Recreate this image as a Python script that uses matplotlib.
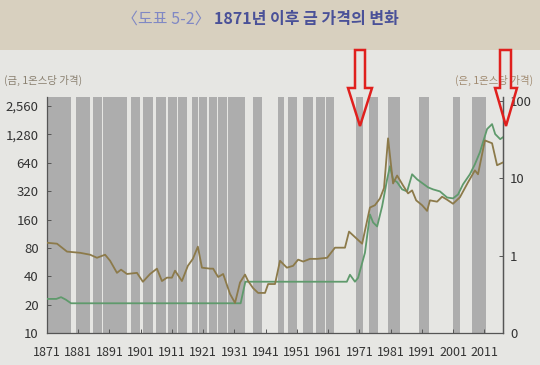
import matplotlib
matplotlib.use("Agg")
import matplotlib.pyplot as plt
from matplotlib.patches import Polygon, Rectangle
from matplotlib.ticker import FixedLocator, NullLocator

plt.rcParams['font.family'] = ['Liberation Sans Narrow', 'Noto Sans CJK KR', 'DejaVu Sans']

# ---- data ----
gold_years = [1871, 1874, 1875.5, 1877, 1878.7, 1933, 1934.5, 1967, 1968.0, 1969.6, 1970.6,
              1972.8, 1974.4, 1975.4, 1976.7, 1978.3, 1979.9, 1980.8, 1981.8, 1983.1, 1984.7,
              1986.3, 1987.9, 1989.5, 1993.0, 1994.6, 1996.8, 1999.1, 2001.0, 2002.6, 2004.2,
              2006.4, 2008.0, 2009.6, 2011.9, 2013.5, 2014.5, 2016.1, 2017.0]
gold_price = [23.0, 23.0, 24.0, 22.6, 20.67, 20.67, 35.0, 35.0, 41.5, 35.0, 38.5,
              71, 181, 149, 135, 221, 427, 588, 427, 398, 334,
              318, 483, 427, 351, 334, 318, 274, 268, 295, 378,
              483, 617, 827, 1458, 1645, 1289, 1139, 1195]

silver_years = [1871.0, 1874.2, 1877.4, 1881.6, 1884.8, 1887.0, 1889.6, 1891.2, 1893.4, 1894.7,
                1896.6, 1899.8, 1901.7, 1904.0, 1906.2, 1907.8, 1909.4, 1911.0, 1912.0, 1914.2,
                1916.1, 1917.7, 1919.3, 1920.6, 1923.2, 1924.2, 1925.8, 1927.4, 1929.6, 1931.2,
                1932.8, 1934.4, 1935.4, 1937.0, 1938.6, 1940.8, 1941.8, 1944.0, 1945.6, 1947.8,
                1949.8, 1951.4, 1953.0, 1955.2, 1957.5, 1960.7, 1963.2, 1966.4, 1967.7, 1971.9,
                1974.4, 1976.0, 1977.6, 1978.9, 1980.2, 1981.8, 1983.1, 1985.0, 1986.6, 1987.9,
                1989.2, 1991.1, 1992.7, 1993.6, 1995.9, 1997.5, 1999.1, 2001.0, 2003.2, 2005.8,
                2008.0, 2009.0, 2011.2, 2013.5, 2015.1, 2017.0]
silver_price = [1.47, 1.43, 1.13, 1.09, 1.03, 0.94, 1.03, 0.86, 0.60, 0.66,
                0.58, 0.60, 0.46, 0.58, 0.68, 0.47, 0.52, 0.52, 0.64, 0.47,
                0.74, 0.91, 1.31, 0.70, 0.68, 0.68, 0.53, 0.58, 0.32, 0.245,
                0.45, 0.57, 0.47, 0.38, 0.33, 0.33, 0.43, 0.43, 0.86, 0.70,
                0.74, 0.89, 0.84, 0.91, 0.91, 0.94, 1.27, 1.27, 2.05, 1.43,
                4.2, 4.5, 5.5, 7.5, 33, 8.6, 10.9, 8.1, 6.4, 7.0,
                5.2, 4.5, 3.8, 5.2, 5.0, 5.8, 5.3, 4.7, 5.7, 8.9,
                12.7, 11.3, 31, 28.5, 14.8, 16.1]

band_start = [1871.0, 1880.3, 1885.7, 1888.9, 1897.9, 1901.7, 1905.9, 1909.7, 1912.9, 1917.4,
              1919.7, 1922.9, 1925.8, 1929.0, 1937.0, 1945.0, 1948.2, 1953.0, 1957.1, 1960.3,
              1969.9, 1974.1, 1980.2, 1990.1, 2001.0, 2007.1]
band_end = [1878.7, 1884.8, 1888.6, 1896.6, 1900.8, 1904.9, 1909.1, 1912.6, 1915.8, 1919.4,
            1922.2, 1925.4, 1928.6, 1934.4, 1939.8, 1946.9, 1951.0, 1956.2, 1960.0, 1962.9,
            1972.2, 1977.0, 1984.0, 1993.3, 2003.2, 2011.6]

x_ticks = list(range(1871, 2012, 10))
gold_ticks = [10, 20, 40, 80, 160, 320, 640, 1280, 2560]
gold_tick_labels = ['10', '20', '40', '80', '160', '320', '640', '1,280', '2,560']
silver_ticks = [0.1, 1, 10, 100]
silver_tick_labels = ['0', '1', '10', '100']

title_a = '〈도표 5-2〉'
title_b = '1871년 이후 금 가격의 변화'
left_unit = '(금, 1온스당 가격)'
right_unit = '(은, 1온스당 가격)'

# ---- figure ----
W, H = 540, 365
fig = plt.figure(figsize=(5.4, 3.65), dpi=100, facecolor='#e6e6e3')

bg = fig.add_axes([0, 0, 1, 1], zorder=0)
bg.set_xlim(0, W); bg.set_ylim(H, 0); bg.axis('off')
bg.add_patch(Rectangle((0, 0), W, 50, color='#d8d0bf', lw=0))
cjk = ['Noto Sans CJK KR', 'DejaVu Sans']
bg.text(211, 19, title_a, ha='right', va='center', fontsize=11.5, color='#8088c4', family=cjk)
bg.text(214, 19, title_b, ha='left', va='center', fontsize=11.5, color='#4a5198',
        fontweight='bold', family=cjk)
bg.text(4, 80, left_unit, ha='left', va='center', fontsize=7.5, color='#8a8070', family=cjk)
bg.text(533, 80, right_unit, ha='right', va='center', fontsize=7.5, color='#a08a70', family=cjk)

ax = fig.add_axes([47 / W, 1 - 333 / H, (503 - 47) / W, (333 - 97) / H], zorder=2)
ax.patch.set_alpha(0)
for s, e in zip(band_start, band_end):
    ax.axvspan(s, e, color='#adadad', lw=0, zorder=1)
ax.set_yscale('log', base=2)
ax.set_ylim(10, 3190)
ax.set_xlim(1871, 2017)
ax.plot(gold_years, gold_price, color='#5f9a6c', lw=1.3, zorder=4)
ax.yaxis.set_major_locator(FixedLocator(gold_ticks))
ax.yaxis.set_minor_locator(NullLocator())
ax.set_yticklabels(gold_tick_labels)
ax.set_xticks(x_ticks)
ax.set_xticklabels([str(t) for t in x_ticks])
ax.tick_params(axis='both', direction='in', length=3, width=0.7, color='#555555',
               labelsize=9.5, labelcolor='#333333')
ax.tick_params(axis='x', pad=9, labelsize=9)
ax.tick_params(axis='y', pad=6)
ax.spines['top'].set_visible(False)
for sp in ['left', 'bottom', 'right']:
    ax.spines[sp].set_color('#555555')
    ax.spines[sp].set_linewidth(0.9)

ax2 = ax.twinx()
ax2.set_yscale('log')
ax2.set_ylim(0.1, 113)
ax2.plot(silver_years, silver_price, color='#8c7a4a', lw=1.3, zorder=4)
ax2.yaxis.set_major_locator(FixedLocator(silver_ticks))
ax2.yaxis.set_minor_locator(NullLocator())
ax2.set_yticklabels(silver_tick_labels)
ax2.tick_params(axis='y', direction='in', length=3, width=0.7, color='#555555',
                labelsize=9.5, labelcolor='#333333', pad=5)
ax2.spines['top'].set_visible(False)
ax2.spines['left'].set_visible(False)
ax2.spines['bottom'].set_visible(False)
ax2.spines['right'].set_color('#555555')
ax2.spines['right'].set_linewidth(0.9)

# red hand-drawn arrows
ov = fig.add_axes([0, 0, 1, 1], zorder=10)
ov.set_xlim(0, W); ov.set_ylim(H, 0); ov.axis('off'); ov.patch.set_alpha(0)
for (x1, x2, hl, hr, tx) in [(355, 365, 348, 372, 360), (500, 511, 495, 517, 506)]:
    pts = [(x1, 50), (x2, 50), (x2, 88), (hr, 88), (tx, 126), (hl, 88), (x1, 88)]
    ov.add_patch(Polygon(pts, closed=True, fill=False, ec='#e0201e', lw=1.8))

fig.savefig('out.png', dpi=100, facecolor=fig.get_facecolor())
